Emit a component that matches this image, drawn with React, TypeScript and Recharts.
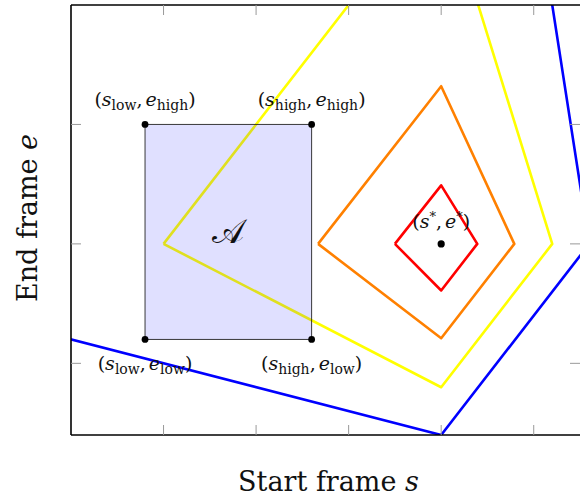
import React from 'react';
import {
  ComposedChart,
  Line,
  XAxis,
  YAxis,
  ReferenceArea,
  ReferenceDot,
} from 'recharts';

// Axis ranges and tick positions
const xDomain: [number, number] = [0, 5.5];
const yDomain: [number, number] = [0.4, 4];
const xTicks = [1, 2, 3, 4, 5];
const yTicks = [1, 2, 3];

// Level-set contours around the optimum (closed polygons: left, top, right, bottom)
const redLevel = [
  { x: 3.5, y: 2 },
  { x: 4, y: 2.49 },
  { x: 4.39, y: 2 },
  { x: 4, y: 1.61 },
  { x: 3.5, y: 2 },
];
const orangeLevel = [
  { x: 2.67, y: 2 },
  { x: 4, y: 3.32 },
  { x: 4.79, y: 2 },
  { x: 4, y: 1.21 },
  { x: 2.67, y: 2 },
];
const yellowLevel = [
  { x: 1, y: 2 },
  { x: 4, y: 5 },
  { x: 5.2, y: 2 },
  { x: 4, y: 0.8 },
  { x: 1, y: 2 },
];
const blueLevel = [
  { x: -4, y: 2 },
  { x: 4, y: 10 },
  { x: 5.6, y: 2 },
  { x: 4, y: 0.4 },
  { x: -4, y: 2 },
];

// Search region A
const sLow = 0.8;
const sHigh = 2.6;
const eLow = 1.2;
const eHigh = 3;

// Optimum (s*, e*)
const sStar = 4;
const eStar = 2;

const FONT = '"DejaVu Serif", "Liberation Serif", serif';

type VB = { x: number; y: number; width: number; height: number };

function cornerLabel(sSub: string, eSub: string, dy: number) {
  return (props: any) => {
    const vb: VB = props.viewBox;
    const cx = vb.x + vb.width / 2;
    const cy = vb.y + vb.height / 2;
    return (
      <text x={cx} y={cy + dy} textAnchor="middle" fontFamily={FONT} fontSize={19} fill="#111">
        <tspan>(</tspan>
        <tspan fontStyle="italic">s</tspan>
        <tspan fontSize={14} dy={4}>{sSub}</tspan>
        <tspan dy={-4}>,</tspan>
        <tspan dx={3} fontStyle="italic">e</tspan>
        <tspan fontSize={14} dy={4}>{eSub}</tspan>
        <tspan dy={-4}>)</tspan>
      </text>
    );
  };
}

function starLabel(props: any) {
  const vb: VB = props.viewBox;
  const cx = vb.x + vb.width / 2;
  const cy = vb.y + vb.height / 2;
  return (
    <text x={cx} y={cy - 16} textAnchor="middle" fontFamily={FONT} fontSize={19} fill="#111">
      <tspan>(</tspan>
      <tspan fontStyle="italic">s</tspan>
      <tspan fontSize={13} dy={-7}>*</tspan>
      <tspan dy={7}>,</tspan>
      <tspan dx={3} fontStyle="italic">e</tspan>
      <tspan fontSize={13} dy={-7}>*</tspan>
      <tspan dy={7}>)</tspan>
    </text>
  );
}

function regionLabel(props: any) {
  const vb: VB = props.viewBox;
  const cx = vb.x + vb.width / 2;
  const cy = vb.y + vb.height / 2;
  return (
    <text x={cx} y={cy + 11} textAnchor="middle" fontFamily={FONT} fontSize={34} fill="#111">
      𝒜
    </text>
  );
}

function xTitle(props: any) {
  const vb: VB = props.viewBox;
  const cx = vb.x + vb.width / 2;
  const base = vb.y + vb.height;
  return (
    <text x={cx + 3} y={base + 56} textAnchor="middle" fontFamily={FONT} fontSize={27} fill="#111">
      Start frame <tspan fontStyle="italic">s</tspan>
    </text>
  );
}

function yTitle(props: any) {
  const vb: VB = props.viewBox;
  const cy = vb.y + vb.height / 2;
  const bx = vb.x - 34;
  return (
    <text
      x={bx}
      y={cy - 2}
      textAnchor="middle"
      fontFamily={FONT}
      fontSize={27}
      fill="#111"
      transform={`rotate(-90, ${bx}, ${cy - 2})`}
    >
      End frame <tspan fontStyle="italic">e</tspan>
    </text>
  );
}

const blank = () => '';

export default function App() {
  const axisLine = { stroke: '#000', strokeWidth: 1.6 };
  const tickLine = { stroke: '#999', strokeWidth: 1 };
  const lineCommon = {
    type: 'linear' as const,
    dataKey: 'y',
    dot: false,
    activeDot: false,
    strokeWidth: 2.6,
    strokeLinejoin: 'round' as const,
    isAnimationActive: false,
  };
  return (
    <div style={{ position: 'absolute', left: 0, top: 0, background: '#fff' }}>
      <ComposedChart
        width={580}
        height={499}
        margin={{ top: 5, right: 0, bottom: 64, left: 71 }}
      >
        <XAxis
          xAxisId={0}
          dataKey="x"
          type="number"
          domain={xDomain}
          ticks={xTicks}
          allowDataOverflow
          mirror
          height={20}
          axisLine={axisLine}
          tickLine={tickLine}
          tickSize={10}
          tickFormatter={blank}
          label={{ content: xTitle }}
        />
        <XAxis
          xAxisId="top"
          orientation="top"
          dataKey="x"
          type="number"
          domain={xDomain}
          ticks={xTicks}
          allowDataOverflow
          mirror
          height={20}
          axisLine={axisLine}
          tickLine={tickLine}
          tickSize={10}
          tickFormatter={blank}
        />
        <YAxis
          yAxisId={0}
          type="number"
          domain={yDomain}
          ticks={yTicks}
          allowDataOverflow
          mirror
          width={20}
          axisLine={axisLine}
          tickLine={tickLine}
          tickSize={10}
          tickFormatter={blank}
          label={{ content: yTitle }}
        />
        <YAxis
          yAxisId="right"
          orientation="right"
          type="number"
          domain={yDomain}
          ticks={yTicks}
          allowDataOverflow
          mirror
          width={20}
          axisLine={false}
          tickLine={tickLine}
          tickSize={10}
          tickFormatter={blank}
        />

        <Line {...lineCommon} data={blueLevel} stroke="#0000ff" />
        <Line {...lineCommon} data={yellowLevel} stroke="#ffff00" />
        <Line {...lineCommon} data={orangeLevel} stroke="#ff8000" />
        <Line {...lineCommon} data={redLevel} stroke="#ff0000" />

        <ReferenceArea
          x1={sLow}
          x2={sHigh}
          y1={eLow}
          y2={eHigh}
          fill="#0000ff"
          fillOpacity={0.12}
          stroke="#222"
          strokeWidth={0.9}
          zIndex={600}
          label={{ content: regionLabel }}
        />

        <ReferenceDot x={sLow} y={eHigh} r={3.4} fill="#000" stroke="none" zIndex={700}
          label={{ content: cornerLabel('low', 'high', -18) }} />
        <ReferenceDot x={sHigh} y={eHigh} r={3.4} fill="#000" stroke="none" zIndex={700}
          label={{ content: cornerLabel('high', 'high', -18) }} />
        <ReferenceDot x={sLow} y={eLow} r={3.4} fill="#000" stroke="none" zIndex={700}
          label={{ content: cornerLabel('low', 'low', 31) }} />
        <ReferenceDot x={sHigh} y={eLow} r={3.4} fill="#000" stroke="none" zIndex={700}
          label={{ content: cornerLabel('high', 'low', 31) }} />
        <ReferenceDot x={sStar} y={eStar} r={3.6} fill="#000" stroke="none" zIndex={700}
          label={{ content: starLabel }} />
      </ComposedChart>
    </div>
  );
}
